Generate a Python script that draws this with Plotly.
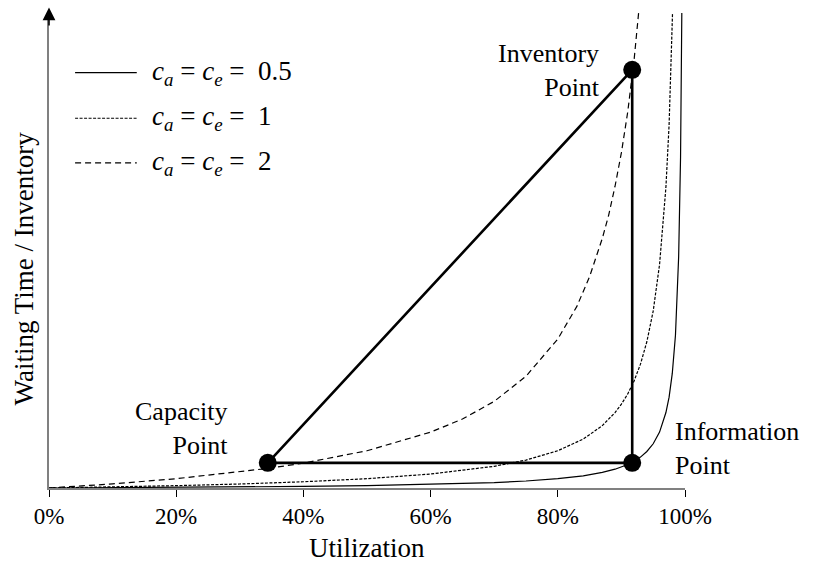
import plotly.graph_objects as go

# Utilization (%) sample points
util_05 = [0, 10, 20, 30, 40, 50, 60, 70, 75, 80, 84, 87, 89, 90, 91, 92, 93, 94, 95, 96, 97, 97.5, 98, 98.5, 99, 99.3, 99.5, 99.55]
wait_05 = [0, 0.03, 0.06, 0.11, 0.17, 0.25, 0.38, 0.58, 0.75, 1.0, 1.31, 1.67, 2.02, 2.25, 2.53, 2.88, 3.32, 3.92, 4.75, 6.0, 8.1, 9.75, 12.3, 16.4, 24.8, 35.5, 49.8, 55]

util_1 = [0, 10, 20, 30, 40, 50, 60, 70, 75, 80, 84, 87, 89, 90, 91, 92, 93, 94, 95, 96, 97, 97.5, 98, 98.2]
wait_1 = [0, 0.11, 0.25, 0.43, 0.67, 1.0, 1.5, 2.33, 3.0, 4.0, 5.25, 6.7, 8.1, 9.0, 10.1, 11.5, 13.3, 15.7, 19.0, 24.0, 32.3, 39.0, 49.0, 54.6]

util_2 = [0, 10, 20, 30, 34.4, 40, 50, 60, 65, 70, 75, 80, 83, 85, 87, 88, 89, 90, 91, 92, 92.7, 93]
wait_2 = [0, 0.44, 1.0, 1.71, 2.1, 2.67, 4.0, 6.0, 7.4, 9.3, 12.0, 16.0, 19.5, 22.7, 26.8, 29.3, 32.4, 36.0, 40.4, 46.0, 50.8, 53.1]

# Triangle: Capacity, Information, Inventory points
tri_util = [34.4, 91.7, 91.7, 34.4]
tri_wait = [2.7, 2.7, 44.9, 2.7]
point_util = [34.4, 91.7, 91.7]
point_wait = [2.7, 2.7, 44.9]

NB = "&nbsp;"
legend_labels = [f"<i>c</i><sub><i>a</i></sub>{NB}={NB}<i>c</i><sub><i>e</i></sub>{NB}={NB}{NB}0.5",
                 f"<i>c</i><sub><i>a</i></sub>{NB}={NB}<i>c</i><sub><i>e</i></sub>{NB}={NB}{NB}1",
                 f"<i>c</i><sub><i>a</i></sub>{NB}={NB}<i>c</i><sub><i>e</i></sub>{NB}={NB}{NB}2"]
legend_y = [44.6, 39.7, 34.9]
dashes = ["solid", "3px,1.5px", "6px,4px"]

tick_vals = [0, 20, 40, 60, 80, 100]
tick_text = ["0%", "20%", "40%", "60%", "80%", "100%"]

SERIF = "Liberation Serif"
LBL = 26
TTL = 27
fig = go.Figure()

for xs, ys, d in [(util_05, wait_05, dashes[0]), (util_1, wait_1, dashes[1]), (util_2, wait_2, dashes[2])]:
    fig.add_trace(go.Scatter(x=xs, y=ys, mode="lines", line=dict(color="black", width=1.2, dash=d),
                             showlegend=False, hoverinfo="skip"))

fig.add_trace(go.Scatter(x=tri_util, y=tri_wait, mode="lines", line=dict(color="black", width=2.6),
                         showlegend=False, hoverinfo="skip"))
fig.add_trace(go.Scatter(x=point_util, y=point_wait, mode="markers",
                         marker=dict(color="black", size=18), showlegend=False, hoverinfo="skip", cliponaxis=False))

# custom legend
for lab, ly, d in zip(legend_labels, legend_y, dashes):
    fig.add_trace(go.Scatter(x=[4.1, 13.8], y=[ly, ly], mode="lines",
                             line=dict(color="black", width=1.2, dash=d), showlegend=False, hoverinfo="skip"))
    fig.add_annotation(x=15.9, y=ly, text=lab, showarrow=False, xanchor="left", yanchor="middle",
                       font=dict(family=SERIF, size=27, color="black"))

# point labels
fig.add_annotation(x=86.9, y=44.8, text="Inventory<br>Point", showarrow=False, xanchor="right", yanchor="middle",
                   align="right", font=dict(family=SERIF, size=LBL, color="black"))
fig.add_annotation(x=28.5, y=6.4, text="Capacity<br>Point", showarrow=False, xanchor="right", yanchor="middle",
                   align="right", font=dict(family=SERIF, size=LBL, color="black"))
fig.add_annotation(x=98.1, y=4.2, text="Information<br>Point", showarrow=False, xanchor="left", yanchor="middle",
                   align="left", font=dict(family=SERIF, size=LBL, color="black"))

# axis titles
fig.add_annotation(x=50, xref="x", y=-0.126, yref="paper", text="Utilization", showarrow=False,
                   xanchor="center", yanchor="middle", font=dict(family=SERIF, size=TTL, color="black"))
fig.add_annotation(x=-0.039, xref="paper", y=23.6, yref="y", text="Waiting Time / Inventory", showarrow=False,
                   textangle=-90, xanchor="center", yanchor="middle", font=dict(family=SERIF, size=TTL, color="black"))

# y-axis arrow head
fig.add_annotation(x=0, y=51.6, ax=0, ay=49.5, xref="x", yref="y", axref="x", ayref="y",
                   text="", showarrow=True, arrowhead=2, arrowsize=1.6, arrowwidth=1.6, arrowcolor="black")

fig.update_layout(
    width=813, height=567,
    margin=dict(l=49, r=128, t=13, b=79),
    plot_bgcolor="white", paper_bgcolor="white",
    font=dict(family=SERIF, size=23, color="black"),
    xaxis=dict(range=[0, 100], tickmode="array", tickvals=tick_vals, ticktext=tick_text,
               showgrid=False, zeroline=False,
               showline=True, linecolor="#808080", linewidth=1.5, ticks="outside", ticklen=7,
               tickcolor="black", tickwidth=1, tickfont=dict(family=SERIF, size=23, color="black")),
    yaxis=dict(range=[0, 51], showticklabels=False, showgrid=False, zeroline=False,
               showline=True, linecolor="#808080", linewidth=1.5, ticks=""),
)

fig.write_html("out.html", config={"displayModeBar": False},
               post_script="document.body.style.margin='0';document.body.style.padding='0';")
